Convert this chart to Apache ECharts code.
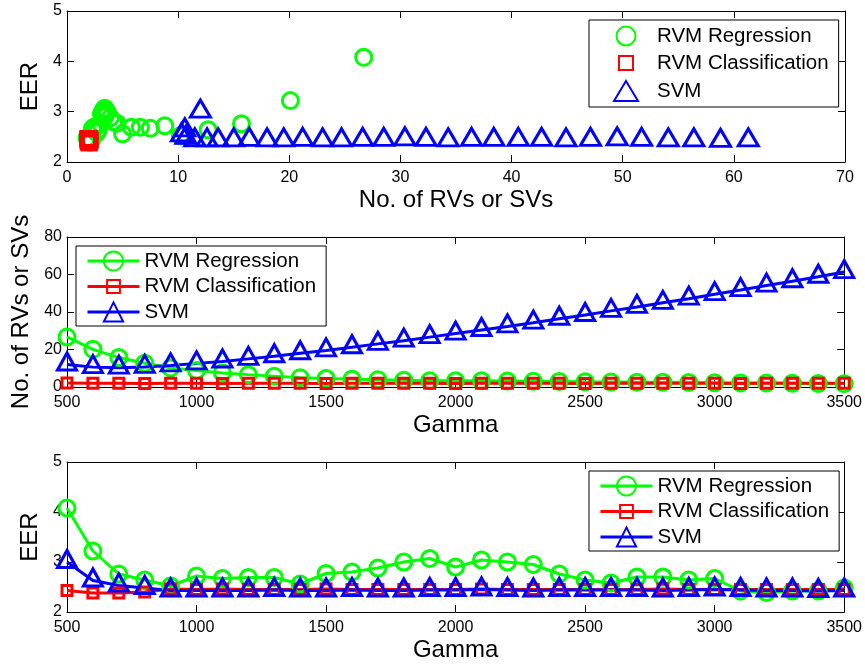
<!DOCTYPE html>
<html>
<head>
<meta charset="utf-8">
<script src="https://cdn.jsdelivr.net/npm/echarts@6/dist/echarts.min.js"></script>
<style>html,body{margin:0;padding:0;background:#fff}#c{width:865px;height:665px}</style>
</head>
<body>
<div id="c"></div>
<script>
// ---- data ----
const gamma = [500,600,700,800,900,1000,1100,1200,1300,1400,1500,1600,1700,1800,1900,2000,2100,2200,2300,2400,2500,2600,2700,2800,2900,3000,3100,3200,3300,3400,3500];
const rvrCount = [26.7,20.1,15.7,12.7,10.2,8.8,7.5,6.6,5.8,5.0,4.5,4.2,3.9,3.6,3.4,3.4,3.3,3.2,3.1,3.0,2.8,2.7,2.6,2.5,2.4,2.3,2.2,2.1,2.0,1.9,1.8];
const rvcCount = [2.1,2.0,2.0,1.9,2.0,2.0,1.9,2.0,2.0,2.0,1.9,2.0,2.0,2.0,2.0,1.9,2.0,2.0,2.0,2.0,1.9,2.0,2.0,2.0,2.0,2.0,1.9,2.0,2.0,2.0,2.0];
const svmCount = [12.0,10.6,10.3,10.7,11.5,12.6,13.6,15.0,16.4,18.0,19.5,21.2,23.0,24.7,26.6,28.5,30.4,32.3,34.3,36.4,38.4,40.6,42.7,44.9,47.1,49.5,51.7,54.1,56.4,58.8,61.3];
const rvrEER = [4.08,3.22,2.76,2.64,2.52,2.72,2.67,2.69,2.69,2.56,2.77,2.80,2.88,3.00,3.07,2.90,3.04,3.00,2.95,2.76,2.64,2.58,2.70,2.70,2.64,2.67,2.42,2.39,2.42,2.42,2.48];
const rvcEER = [2.43,2.38,2.38,2.40,2.46,2.45,2.46,2.45,2.45,2.45,2.46,2.45,2.45,2.45,2.45,2.45,2.46,2.45,2.45,2.45,2.45,2.45,2.45,2.46,2.45,2.45,2.45,2.45,2.45,2.45,2.45];
const svmEER = [3.00,2.63,2.53,2.48,2.43,2.43,2.43,2.43,2.44,2.43,2.43,2.44,2.43,2.43,2.44,2.44,2.45,2.44,2.43,2.44,2.44,2.44,2.44,2.43,2.44,2.45,2.44,2.43,2.43,2.42,2.43];
const seriesNames = ['RVM Regression','RVM Classification','SVM'];
const topXTicks = {min:0, max:70, interval:10};
const eerTicks = {min:2, max:5, interval:1};
const countTicks = {min:0, max:80, interval:20};
const gammaTicks = {min:500, max:3500, interval:500};

// ---- styling ----
const FONT = 'Liberation Sans, Arial, Helvetica, sans-serif';
const GREEN = '#00ff00', RED = '#ff0000', BLUE = '#0000ff';
const SQ = 'path://M-0.25,-0.25M1.25,1.25M0,0L1,0L1,1L0,1Z';
// legend icons for the marker-only panel, drawn inside a 52x22 frame
const LEG_ICONS = [
  'path://M0,0M52,22M35.5,11A9.5,9.5 0 1 1 16.5,11A9.5,9.5 0 1 1 35.5,11Z',
  'path://M0,0M52,22M19,3.5L33,3.5L33,17.5L19,17.5Z',
  'path://M0,0M52,22M26,1L38,21L14,21Z'
];

function mkX(grid, t, name, show, position) {
  return {
    type: 'value', gridIndex: grid, position: position,
    min: t.min, max: t.max, interval: t.interval,
    name: show ? name : '', nameLocation: 'middle', nameGap: 26,
    nameTextStyle: {fontSize: 24, color: '#000', fontFamily: FONT},
    axisLine: {show: true, onZero: false, lineStyle: {color: '#000', width: 1}},
    axisTick: {show: true, inside: true, length: 7, lineStyle: {color: '#000', width: 1}},
    axisLabel: {show: show, margin: 8, fontSize: 16, color: '#000', fontFamily: FONT, formatter: v => String(v)},
    splitLine: {show: false}
  };
}
function mkY(grid, t, name, show, position, gap) {
  return {
    type: 'value', gridIndex: grid, position: position,
    min: t.min, max: t.max, interval: t.interval,
    name: show ? name : '', nameLocation: 'middle', nameGap: gap || 26,
    nameTextStyle: {fontSize: 24, color: '#000', fontFamily: FONT},
    axisLine: {show: true, onZero: false, lineStyle: {color: '#000', width: 1}},
    axisTick: {show: true, inside: true, length: 7, lineStyle: {color: '#000', width: 1}},
    axisLabel: {show: show, margin: 5, fontSize: 16, color: '#000', fontFamily: FONT, formatter: v => String(v)},
    splitLine: {show: false}
  };
}
function hollow(c) { return {color: 'rgba(0,0,0,0)', borderColor: c, borderWidth: 3, opacity: 1}; }

const pairs = (xs, ys) => xs.map((x, i) => [x, ys[i]]);

const colors = [GREEN, RED, BLUE];
const topSymbols = [['circle', 16], [SQ, 21], ['triangle', [20, 17]]];
const lineSymbols = [['circle', 16], [SQ, 15], ['triangle', [19, 17]]];
const counts = [rvrCount, rvcCount, svmCount];
const eers = [rvrEER, rvcEER, svmEER];

const series = [];
// panel 1: EER vs number of RVs / SVs
seriesNames.forEach((n, k) => {
  series.push({
    name: n, type: 'scatter', xAxisIndex: 0, yAxisIndex: 0,
    symbol: topSymbols[k][0], symbolSize: topSymbols[k][1],
    symbolOffset: k === 2 ? [0, -3] : [0, 0],
    itemStyle: hollow(colors[k]),
    data: pairs(counts[k], eers[k])
  });
});
// panel 2: number vs gamma ; panel 3: EER vs gamma
[[2, counts, ' '], [4, eers, '  ']].forEach(([ax, arrs, suf]) => {
  seriesNames.forEach((n, k) => {
    series.push({
      name: n + suf, type: 'line', xAxisIndex: ax, yAxisIndex: ax,
      symbol: lineSymbols[k][0], symbolSize: lineSymbols[k][1],
      symbolOffset: k === 2 ? [0, -3] : [0, 0],
      showSymbol: true,
      itemStyle: hollow(colors[k]),
      lineStyle: {color: colors[k], width: 3},
      data: pairs(gamma, arrs[k])
    });
  });
});

function mkLegend(names, left, top, isScatter) {
  return {
    data: names.map((n, k) => isScatter ? {name: n, icon: LEG_ICONS[k]} : {name: n}),
    left: left, top: top, orient: 'vertical',
    padding: isScatter ? [4, 10, 4, 10] : [4, 10, 3, 10],
    itemWidth: 52,
    itemHeight: isScatter ? 22 : 24,
    itemGap: 3.5,
    symbolKeepAspect: false,
    borderColor: '#000', borderWidth: 1, backgroundColor: '#fff',
    selectedMode: false,
    lineStyle: {width: 3},
    formatter: n => n.trim(),
    textStyle: {fontSize: 20.5, lineHeight: 22, color: '#000', fontFamily: FONT}
  };
}

const option = {
  animation: false,
  backgroundColor: '#fff',
  textStyle: {fontFamily: FONT},
  grid: [
    {left: 67, top: 11, width: 778, height: 151},
    {left: 67, top: 237, width: 778, height: 150},
    {left: 67, top: 462, width: 778, height: 150}
  ],
  xAxis: [
    mkX(0, topXTicks, 'No. of RVs or SVs', true, 'bottom'),
    mkX(0, topXTicks, '', false, 'top'),
    mkX(1, gammaTicks, 'Gamma', true, 'bottom'),
    mkX(1, gammaTicks, '', false, 'top'),
    mkX(2, gammaTicks, 'Gamma', true, 'bottom'),
    mkX(2, gammaTicks, '', false, 'top')
  ],
  yAxis: [
    mkY(0, eerTicks, 'EER', true, 'left', 25),
    mkY(0, eerTicks, '', false, 'right'),
    mkY(1, countTicks, 'No. of RVs or SVs', true, 'left', 34),
    mkY(1, countTicks, '', false, 'right'),
    mkY(2, eerTicks, 'EER', true, 'left', 25),
    mkY(2, eerTicks, '', false, 'right')
  ],
  legend: [
    mkLegend(seriesNames, 589, 20, true),
    mkLegend(seriesNames.map(n => n + ' '), 76, 246, false),
    mkLegend(seriesNames.map(n => n + '  '), 589, 471, false)
  ],
  series: series
};

const chart = echarts.init(document.getElementById('c'), null, {renderer: 'canvas'});
chart.setOption(option);
</script>
</body>
</html>
